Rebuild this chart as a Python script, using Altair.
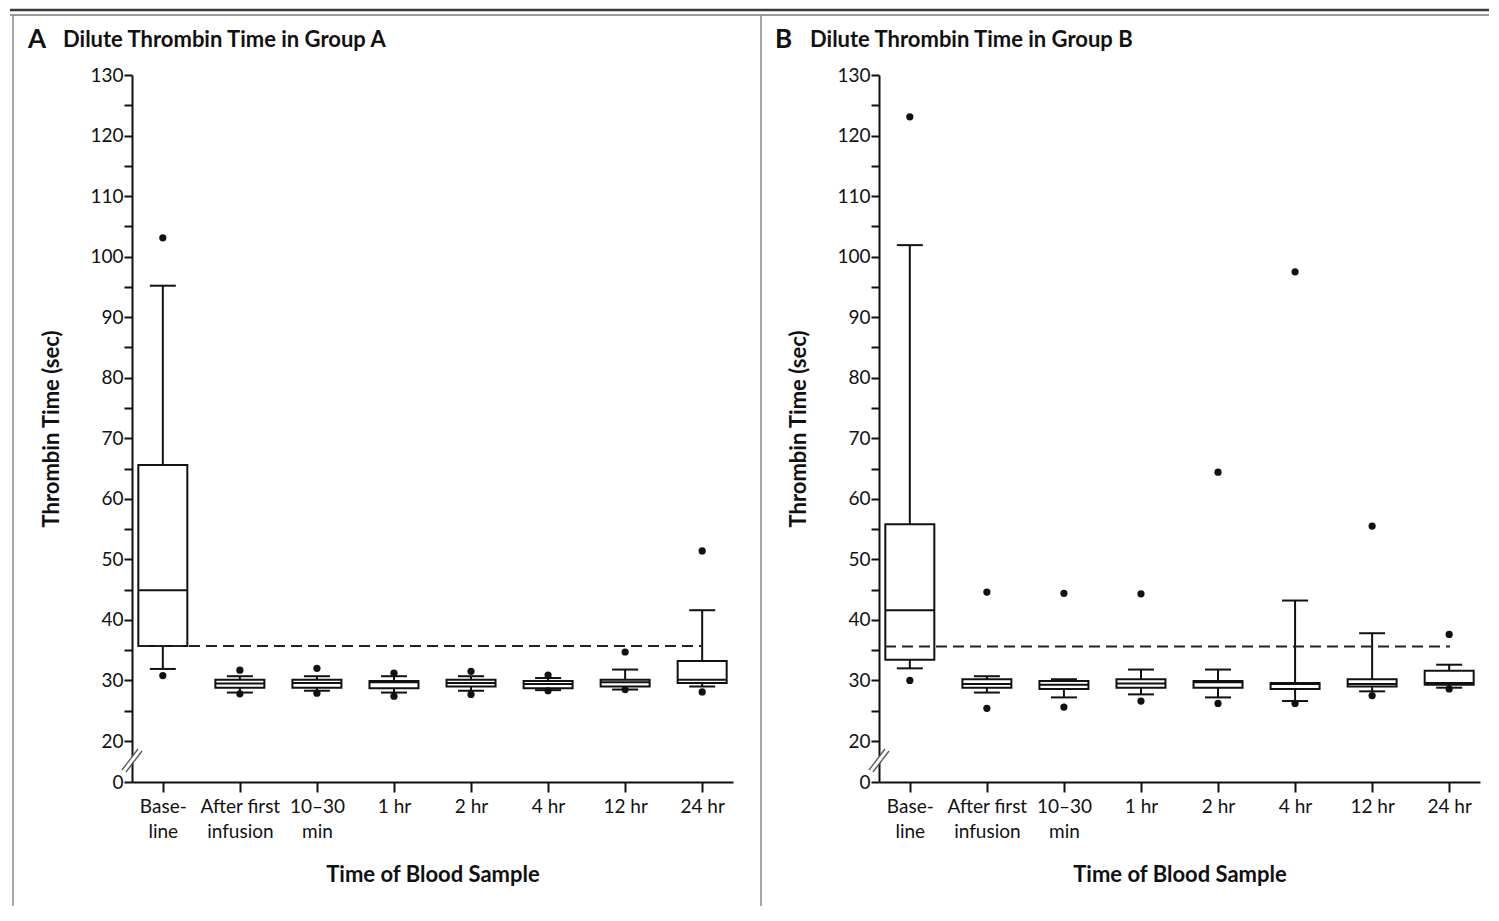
import altair as alt
import pandas as pd

# ---------------- data ----------------
categories = ["Base-\nline", "After first\ninfusion", "10\u201330\nmin", "1 hr", "2 hr", "4 hr", "12 hr", "24 hr"]

letters = ["A", "B"]
titles = ["Dilute Thrombin Time in Group A", "Dilute Thrombin Time in Group B"]

a_low = [31.9, 28.0, 28.3, 28.0, 28.3, 28.4, 28.5, 29.0]
a_q1 = [35.7, 28.8, 28.8, 28.7, 29.0, 28.7, 29.0, 29.6]
a_median = [44.9, 29.5, 29.6, 29.7, 29.6, 29.4, 29.7, 30.1]
a_q3 = [65.6, 30.1, 30.1, 29.9, 30.1, 29.9, 30.1, 33.2]
a_high = [95.2, 30.7, 30.7, 30.7, 30.7, 30.4, 31.8, 41.6]
a_out_high = [103.1, 31.7, 32.0, 31.2, 31.5, 30.9, 34.7, 51.4]
a_out_low = [30.8, 27.8, 27.9, 27.4, 27.7, 28.3, 28.5, 28.1]

b_low = [32.0, 28.0, 27.2, 27.7, 27.2, 26.6, 28.2, 28.8]
b_q1 = [33.4, 28.8, 28.6, 28.8, 28.8, 28.6, 29.0, 29.3]
b_median = [41.6, 29.4, 29.3, 29.5, 29.7, 29.4, 29.4, 29.6]
b_q3 = [55.8, 30.2, 29.9, 30.2, 29.9, 29.6, 30.2, 31.6]
b_high = [101.9, 30.7, 30.2, 31.8, 31.8, 43.2, 37.8, 32.6]
b_out_high = [123.1, 44.6, 44.4, 44.3, 64.4, 97.5, 55.5, 37.6]
b_out_low = [30.0, 25.4, 25.6, 26.6, 26.2, 26.2, 27.5, 28.6]

reference_values = [35.7, 35.6]

y_ticks = [0, 20, 25, 30, 35, 40, 45, 50, 55, 60, 65, 70, 75, 80, 85, 90, 95, 100, 105, 110, 115, 120, 125, 130]

# ---------------- style ----------------
FONT = "Lato"
INK = "#111111"
W, H = 601, 707
LW = 2


def blank():
    return alt.Data(values=[{}])


def panel(idx, low, q1, med, q3, high, out_hi, out_lo, ref, draw_frame):
    box = pd.DataFrame({"cat": categories, "low": low, "q1": q1, "med": med, "q3": q3, "high": high})
    outs = pd.DataFrame({
        "cat": categories + categories,
        "val": out_hi + out_lo,
    })
    refdf = pd.DataFrame({"ref": [ref]})

    xaxis = alt.Axis(
        title="Time of Blood Sample", labelExpr="split(datum.label, '\\n')", labelAngle=0,
        labelFont=FONT, labelFontSize=19, labelColor=INK, labelLineHeight=25, labelPadding=5,
        tickSize=10, tickWidth=LW, tickColor=INK, domainColor=INK, domainWidth=LW,
        titleFont=FONT, titleFontSize=22, titleFontWeight="bold", titleColor=INK,
        titleY=92, titleBaseline="middle", grid=False,
    )
    x = alt.X("cat:N", sort=categories, scale=alt.Scale(type="point", padding=0.4), axis=xaxis)

    yscale = alt.Scale(domain=[0, 20, 130], range=[H, H - 41, 0], nice=False, zero=False)
    yaxis = alt.Axis(
        title="Thrombin Time (sec)", values=y_ticks,
        labelExpr="datum.value % 10 == 0 ? datum.label : ''",
        labelFont=FONT, labelFontSize=19, labelColor=INK, labelPadding=1,
        labelFlush=False, labelOverlap=False,
        tickSize=8, tickWidth=LW, tickColor=INK, domainColor=INK, domainWidth=LW,
        titleFont=FONT, titleFontSize=22, titleFontWeight="bold", titleColor=INK,
        titleX=-81, titleY=H / 2, titleAlign="center", titleBaseline="middle", titleAngle=270,
        grid=False,
    )

    def Y(field):
        return alt.Y(field, scale=yscale, axis=yaxis, title="Thrombin Time (sec)")

    base = alt.Chart(box)
    whisker = base.mark_rule(color=INK, strokeWidth=LW).encode(x=x, y=Y("low:Q"), y2="high:Q")
    boxes = base.mark_bar(size=49, fill="white", stroke=INK, strokeWidth=LW).encode(x=x, y=Y("q1:Q"), y2="q3:Q")
    median = base.mark_tick(size=49, thickness=LW, color=INK, opacity=1, orient="horizontal").encode(x=x, y=Y("med:Q"))
    cap_lo = base.mark_tick(size=26, thickness=LW, color=INK, opacity=1, orient="horizontal").encode(x=x, y=Y("low:Q"))
    cap_hi = base.mark_tick(size=26, thickness=LW, color=INK, opacity=1, orient="horizontal").encode(x=x, y=Y("high:Q"))
    dots = alt.Chart(outs).mark_circle(size=52, color=INK, opacity=1).encode(x=x, y=Y("val:Q"))
    dashed = alt.Chart(refdf).mark_rule(color="#222222", strokeWidth=LW, strokeDash=[11, 6]).encode(
        x=alt.value(6), x2=alt.value(571), y=Y("ref:Q"))

    # axis break symbol
    brk_white = alt.Chart(blank()).mark_rule(color="white", strokeWidth=4).encode(
        x=alt.value(-6), x2=alt.value(6), y=alt.value(693), y2=alt.value(677))
    brk1 = alt.Chart(blank()).mark_rule(color="#555555", strokeWidth=1.3).encode(
        x=alt.value(-10), x2=alt.value(6), y=alt.value(695), y2=alt.value(674))
    brk2 = alt.Chart(blank()).mark_rule(color="#555555", strokeWidth=1.3).encode(
        x=alt.value(-6), x2=alt.value(10), y=alt.value(697), y2=alt.value(676))

    letter = alt.Chart(blank()).mark_text(align="left", baseline="middle", font=FONT, fontSize=26,
                                          fontWeight="bold", color=INK).encode(
        text=alt.value(letters[idx]), x=alt.value(-104), y=alt.value(-35))
    ttl = alt.Chart(blank()).mark_text(align="left", baseline="middle", font=FONT, fontSize=22,
                                       fontWeight="bold", color=INK).encode(
        text=alt.value(titles[idx]), x=alt.value(-69), y=alt.value(-35))

    layers = [whisker, boxes, median, cap_lo, cap_hi, dots, dashed, brk_white, brk1, brk2, letter, ttl]

    if draw_frame:
        layers += [
            alt.Chart(blank()).mark_rule(color="#3a3a3a", strokeWidth=2.5).encode(
                x=alt.value(-122), x2=alt.value(1357), y=alt.value(-65)),
            alt.Chart(blank()).mark_rule(color="#7a7a7a", strokeWidth=1.5).encode(
                x=alt.value(-122), x2=alt.value(1357), y=alt.value(-60)),
            alt.Chart(blank()).mark_rule(color="#8a8a8a", strokeWidth=1.5).encode(
                x=alt.value(-119), y=alt.value(-60), y2=alt.value(831)),
            alt.Chart(blank()).mark_rule(color="#8a8a8a", strokeWidth=1.5).encode(
                x=alt.value(629), y=alt.value(-60), y2=alt.value(831)),
        ]

    return alt.layer(*layers).properties(
        width=W, height=H, view=alt.ViewBackground(strokeWidth=0, stroke="transparent")
    )


pa = panel(0, a_low, a_q1, a_median, a_q3, a_high, a_out_high, a_out_low, reference_values[0], True)
pb = panel(1, b_low, b_q1, b_median, b_q3, b_high, b_out_high, b_out_low, reference_values[1], False)

chart = alt.hconcat(pa, pb, spacing=146, bounds="flush").properties(
    padding={"left": 0, "top": 0, "right": 0, "bottom": 0},
    background="white",
).configure_view(strokeWidth=0, stroke="transparent")

chart.save("out.html", embed_options={"renderer": "svg", "actions": False})
